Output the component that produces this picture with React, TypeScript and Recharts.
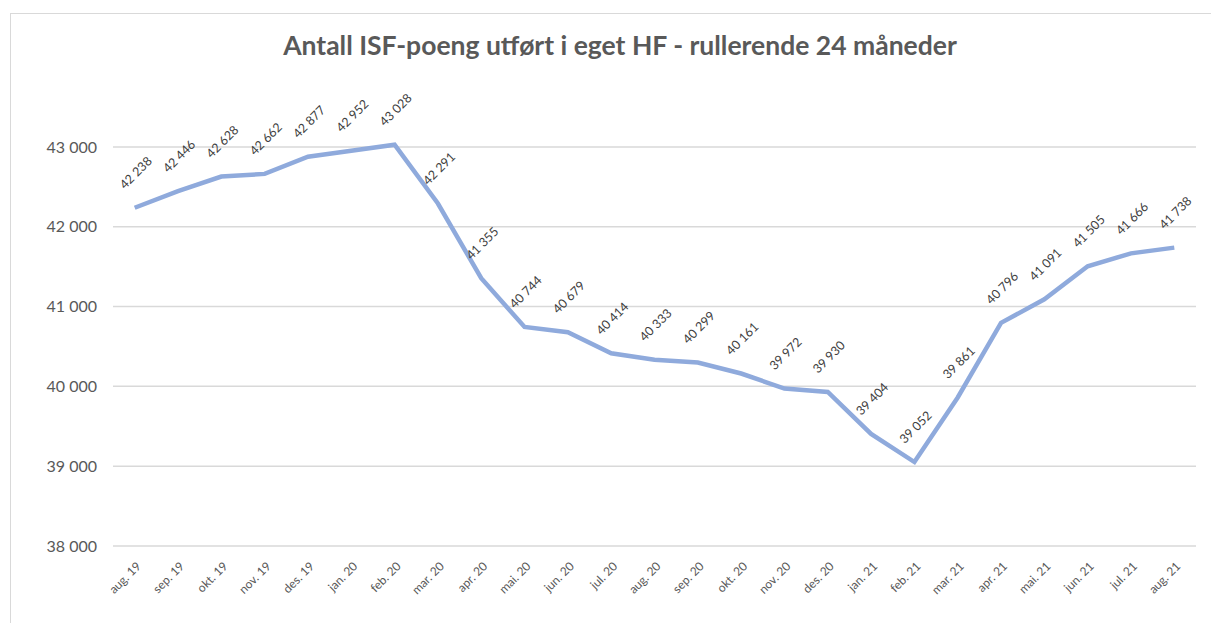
import { LineChart, Line, XAxis, YAxis, CartesianGrid, LabelList } from "recharts"

const months = [
  "aug. 19", "sep. 19", "okt. 19", "nov. 19", "des. 19", "jan. 20", "feb. 20",
  "mar. 20", "apr. 20", "mai. 20", "jun. 20", "jul. 20", "aug. 20", "sep. 20",
  "okt. 20", "nov. 20", "des. 20", "jan. 21", "feb. 21", "mar. 21", "apr. 21",
  "mai. 21", "jun. 21", "jul. 21", "aug. 21"
]

const poeng = [
  42238, 42446, 42628, 42662, 42877, 42952, 43028, 42291, 41355, 40744, 40679,
  40414, 40333, 40299, 40161, 39972, 39930, 39404, 39052, 39861, 40796, 41091,
  41505, 41666, 41738
]

const yTicks = [38000, 39000, 40000, 41000, 42000, 43000]

const data = months.map((m, i) => ({ month: m, value: poeng[i] }))

const font = "Lato, 'Open Sans', sans-serif"

const fmt = (v: number) => String(v).replace(/\B(?=(\d{3})+(?!\d))/g, " ")

const MonthTick = (props: any) => {
  const { x, y, payload } = props
  return (
    <g transform={`translate(${x + 4},${y + 10})`}>
      <text
        transform="rotate(-45)"
        textAnchor="end"
        dy="0.35em"
        fill="#595959"
        fontSize={12}
        fontFamily={font}
      >
        {payload.value}
      </text>
    </g>
  )
}

const PointLabel = (props: any) => {
  const { x, y, value } = props
  return (
    <g transform={`translate(${x + 1},${y - 35})`}>
      <text
        transform="rotate(-45)"
        textAnchor="middle"
        dominantBaseline="central"
        fill="#404040"
        fontSize={12.5}
        fontFamily={font}
      >
        {fmt(value)}
      </text>
    </g>
  )
}

export default function App() {
  return (
    <div style={{ position: "absolute", left: 0, top: 0, width: 1211, height: 623, background: "#fff" }}>
      <div
        style={{
          position: "absolute",
          left: 10,
          top: 13,
          width: 1205,
          height: 612,
          border: "1px solid #d9d9d9"
        }}
      />
      <div
        style={{
          position: "absolute",
          left: 0,
          top: 29,
          width: 1240,
          textAlign: "center",
          fontFamily: font,
          fontWeight: 700,
          fontSize: 26.5,
          color: "#595959"
        }}
      >
        Antall ISF-poeng utført i eget HF - rullerende 24 måneder
      </div>

      <div style={{ position: "absolute", left: 0, top: 0 }}>
        <LineChart
          width={1211}
          height={623}
          data={data}
          margin={{ top: 107, right: 15, bottom: 7, left: 0 }}
        >
          <CartesianGrid vertical={false} horizontalValues={yTicks} stroke="#d9d9d9" strokeWidth={1.5} />
          <XAxis
            dataKey="month"
            interval={0}
            height={70}
            axisLine={false}
            tickLine={false}
            padding={{ left: 21.7, right: 21.7 }}
            tick={<MonthTick />}
          />
          <YAxis
            domain={[38000, 43500]}
            ticks={yTicks}
            width={113}
            axisLine={false}
            tickLine={false}
            tickSize={0}
            tickMargin={16}
            tickFormatter={fmt}
            tick={{ fill: "#595959", fontSize: 16, fontFamily: font }}
          />
          <Line
            type="linear"
            dataKey="value"
            stroke="#8faadc"
            strokeWidth={4.5}
            dot={false}
            isAnimationActive={false}
          >
            <LabelList dataKey="value" content={<PointLabel />} />
          </Line>
        </LineChart>
      </div>
    </div>
  )
}
